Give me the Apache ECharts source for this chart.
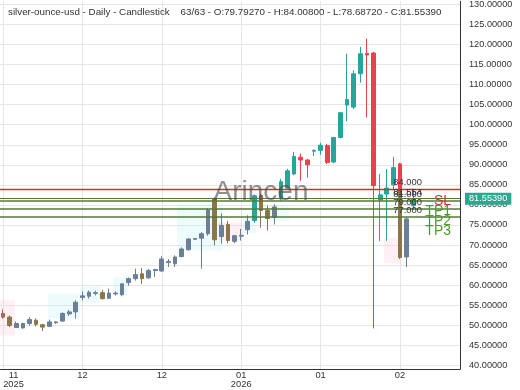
<!DOCTYPE html>
<html><head><meta charset="utf-8">
<script src="https://cdn.jsdelivr.net/npm/echarts@6/dist/echarts.min.js"></script>
<style>html,body{margin:0;padding:0;background:#fff}#c{width:520px;height:390px}</style>
</head><body><div id="c"></div>
<script>
const titleText = 'silver-ounce-usd - Daily - Candlestick    63/63 - O:79.79270 - H:84.00800 - L:78.68720 - C:81.55390';
const openV = [52.9,52.0,49.4,49.3,50.4,51.2,50.1,49.7,50.6,51.0, 52.8,53.3,56.9,57.2,57.9,58.1,56.7,57.8,57.6,60.6, 61.6,62.8,61.8,63.6,63.5,65.6,65.3,67.1,68.8,71.4, 71.7,72.8,81.5,72.1,75.1,70.9,72.2,73.8,76.1,82.3, 78.6,76.9,81.5,84.2,87.7,91.9,91.2,93.4,93.6,94.8, 90.7,96.8,104.9,104.4,112.7,117.8,117.9,81.2,82.7,85.0, 90.2,67.0,79.7927];
const closeV = [52.0,49.9,50.4,50.4,51.4,50.2,49.5,50.8,50.8,52.9, 53.3,55.7,57.3,58.2,58.1,56.6,58.0,58.0,60.3,61.6, 62.6,61.6,63.6,63.9,66.5,65.9,67.0,69.0,71.5,71.6, 72.8,78.7,71.3,74.9,71.1,72.3,72.4,75.9,82.3,78.6, 76.6,79.5,85.8,88.5,92.1,91.2,90.0,93.6,94.9,90.6, 96.8,103.0,106.3,112.7,117.7,117.4,84.8,82.5,84.2,89.3, 66.9,76.5,81.5539];
const lowV = [51.6,49.5,49.3,49.1,49.8,49.7,48.5,49.5,50.3,50.9, 52.3,51.6,56.2,56.6,57.4,56.4,56.6,57.4,57.2,59.8, 61.1,60.3,61.5,62.0,63.3,64.5,64.5,66.9,68.6,71.3, 64.1,72.3,69.9,70.3,70.4,70.4,71.1,72.6,75.5,74.3, 73.6,75.1,81.0,83.8,87.4,86.0,86.8,92.2,92.5,90.2, 90.4,96.6,100.9,103.9,110.5,101.8,49.2,71.0,71.0,83.8, 66.5,64.5,78.6872];
const highV = [53.9,52.4,50.9,50.6,52.0,51.7,50.3,51.4,51.0,53.2, 53.8,56.2,58.4,58.6,58.6,58.8,59.1,58.4,60.4,61.9, 64.1,64.2,64.0,64.0,67.2,66.5,67.4,69.4,71.7,71.7, 73.2,79.2,81.9,77.9,76.0,72.5,74.0,77.4,82.6,82.8, 79.8,80.2,86.5,89.0,93.2,92.8,91.5,93.9,95.5,95.2, 97.0,103.2,117.7,113.6,119.4,121.5,118.2,87.7,88.9,92.0, 90.5,76.9,84.008];
const xTickIdx = [0,12,24,36,48,60];
const xTickLabels = ['11\n2025','12','12','01\n2026','01','02'];
const yTicks = [40,45,50,55,60,65,70,75,80,85,90,95,100,105,110,115,120,125,130];
const levels = [84.0, 81.5539, 81.0, 79.0, 77.0];
const levelNames = ['SL', '', 'TP1', 'TP2', 'TP3'];
const lastPrice = 81.5539;
const watermark = 'Arincen';
// which candles are drawn dimmed
const mutedIdx = [0,1,2,3,4,5,6,7,8,9,10,11,12,13,14,15,16,17,18,19,20,21,22,23,24,25,26,27,28,29,30,31,32,33,34,35,36,37,39,40,41,60,61];
// candles whose upper part shows in full colour down to a level
const splitTop = [[39, 81.0], [60, 84.0]];

const UP = '#26a69a', DOWN = '#e8424f', MUP = '#6c7f99', MDOWN = '#8a7649';
const candleData = openV.map((o, i) => {
  const up = closeV[i] >= o;
  const muted = mutedIdx.includes(i);
  let col = muted ? (up ? MUP : MDOWN) : (up ? UP : DOWN);
  if (i === 0) col = '#a8635b';
  return {value: [i, o, closeV[i], lowV[i], highV[i]],
    itemStyle: {color: col, color0: col, borderColor: col, borderColor0: col}};
});
const topData = splitTop.map(([i, lv]) => ({value: [i, openV[i], lv, lv, openV[i]],
  itemStyle: {color: DOWN, color0: DOWN, borderColor: DOWN, borderColor0: DOWN}}));

const zones = [
  ['p', -0.45, 1.8, 47.4, 56.2], ['c', 6.8, 11.7, 51.8, 57.9], ['c', 11.7, 14.7, 55.7, 59.6],
  ['c', 16.7, 18.8, 57.4, 61.8], ['c', 26.3, 33.2, 68.6, 80.3], ['p', 32.6, 36.2, 71.1, 75.6],
  ['c', 36.2, 38.2, 72.9, 76.8], ['c', 40.2, 43.2, 76.1, 79.8], ['p', 57.6, 60.2, 65.4, 71.8]
];
const zoneCol = {p: 'rgba(250,195,212,0.25)', c: 'rgba(185,238,245,0.25)'};

const FONT = 'Liberation Sans';
const NONE = 'rgba(0,0,0,0)';
const bigOff = [5, 0, 3, 5, 7];
const lineW = [1.3, 1.2, 1.5, 1.5, 1.5];
const markData = [];
levels.forEach((v, k) => {
  markData.push({yAxis: v, lineStyle: {color: k === 0 ? '#d42e2e' : '#56793a', width: lineW[k], type: 'solid', opacity: 1},
    label: {show: true, position: 'insideEndTop', distance: [38, 2], formatter: v.toFixed(3), color: '#333', fontSize: 9.4, fontFamily: FONT}});
});
levelNames.forEach((n, k) => {
  if (!n) return;
  markData.push({yAxis: levels[k], lineStyle: {color: NONE, width: 1},
    label: {show: true, position: 'insideEndBottom', distance: [9, bigOff[k]], formatter: n, color: k === 0 ? '#cc3333' : '#4f9a2b', fontSize: 14, fontFamily: FONT}});
});
markData.push({yAxis: lastPrice, lineStyle: {color: NONE, width: 1},
  label: {show: true, position: 'end', distance: 5, formatter: lastPrice.toFixed(5), color: '#fff', backgroundColor: '#2aa890', padding: [2, 4, 1, 4], fontSize: 9.2, fontFamily: FONT}});

const chart = echarts.init(document.getElementById('c'), null, {renderer: 'canvas'});
chart.setOption({
  animation: false,
  backgroundColor: '#fff',
  textStyle: {fontFamily: FONT},
  title: {text: titleText, left: 8, top: 7, padding: 0,
    textStyle: {fontSize: 9.8, fontWeight: 'normal', color: '#333', fontFamily: FONT}},
  grid: {left: 0, top: 0, width: 460, height: 369},
  xAxis: {type: 'value', min: -0.4534, max: 69.065,
    axisLine: {show: true, onZero: false, lineStyle: {color: '#333'}},
    axisTick: {show: false, customValues: xTickIdx},
    splitLine: {show: true, lineStyle: {color: '#e6e6e6'}},
    axisLabel: {customValues: xTickIdx, alignMinLabel: 'left', margin: 2, fontSize: 9.3, color: '#333', lineHeight: 9,
      formatter: v => {const t = xTickLabels[xTickIdx.indexOf(Math.round(v))] || ''; return t.split('\n').map(s => '{c|' + s + '}').join('\n');},
      rich: {c: {align: 'center', width: 21, fontSize: 9.3, lineHeight: 9, color: '#333', fontFamily: FONT}}}
  },
  yAxis: {type: 'value', position: 'right', min: 39.05, max: 130.8,
    axisLine: {show: true, onZero: false, lineStyle: {color: '#333'}},
    axisTick: {show: false, customValues: yTicks},
    splitLine: {show: true, lineStyle: {color: '#e6e6e6'}},
    axisLabel: {customValues: yTicks, margin: 9, fontSize: 9.2, color: '#333', formatter: v => v.toFixed(5)}
  },
  graphic: [{type: 'text', x: 261, y: 192, z: 100, silent: true,
    style: {text: watermark, font: '28px "Liberation Sans"', fill: 'rgba(70,70,70,0.6)', textAlign: 'center', textVerticalAlign: 'middle'}}],
  series: [
    {type: 'candlestick', data: candleData, barWidth: 4.2, itemStyle: {borderWidth: 1},
      markArea: {silent: true, data: zones.map(z => [{xAxis: z[1], yAxis: z[3], itemStyle: {color: zoneCol[z[0]]}}, {xAxis: z[2], yAxis: z[4]}])},
      markLine: {symbol: 'none', silent: true, animation: false, data: markData}
    },
    {type: 'candlestick', data: topData, barWidth: 4.2, itemStyle: {borderWidth: 1}}
  ]
});
</script></body></html>
